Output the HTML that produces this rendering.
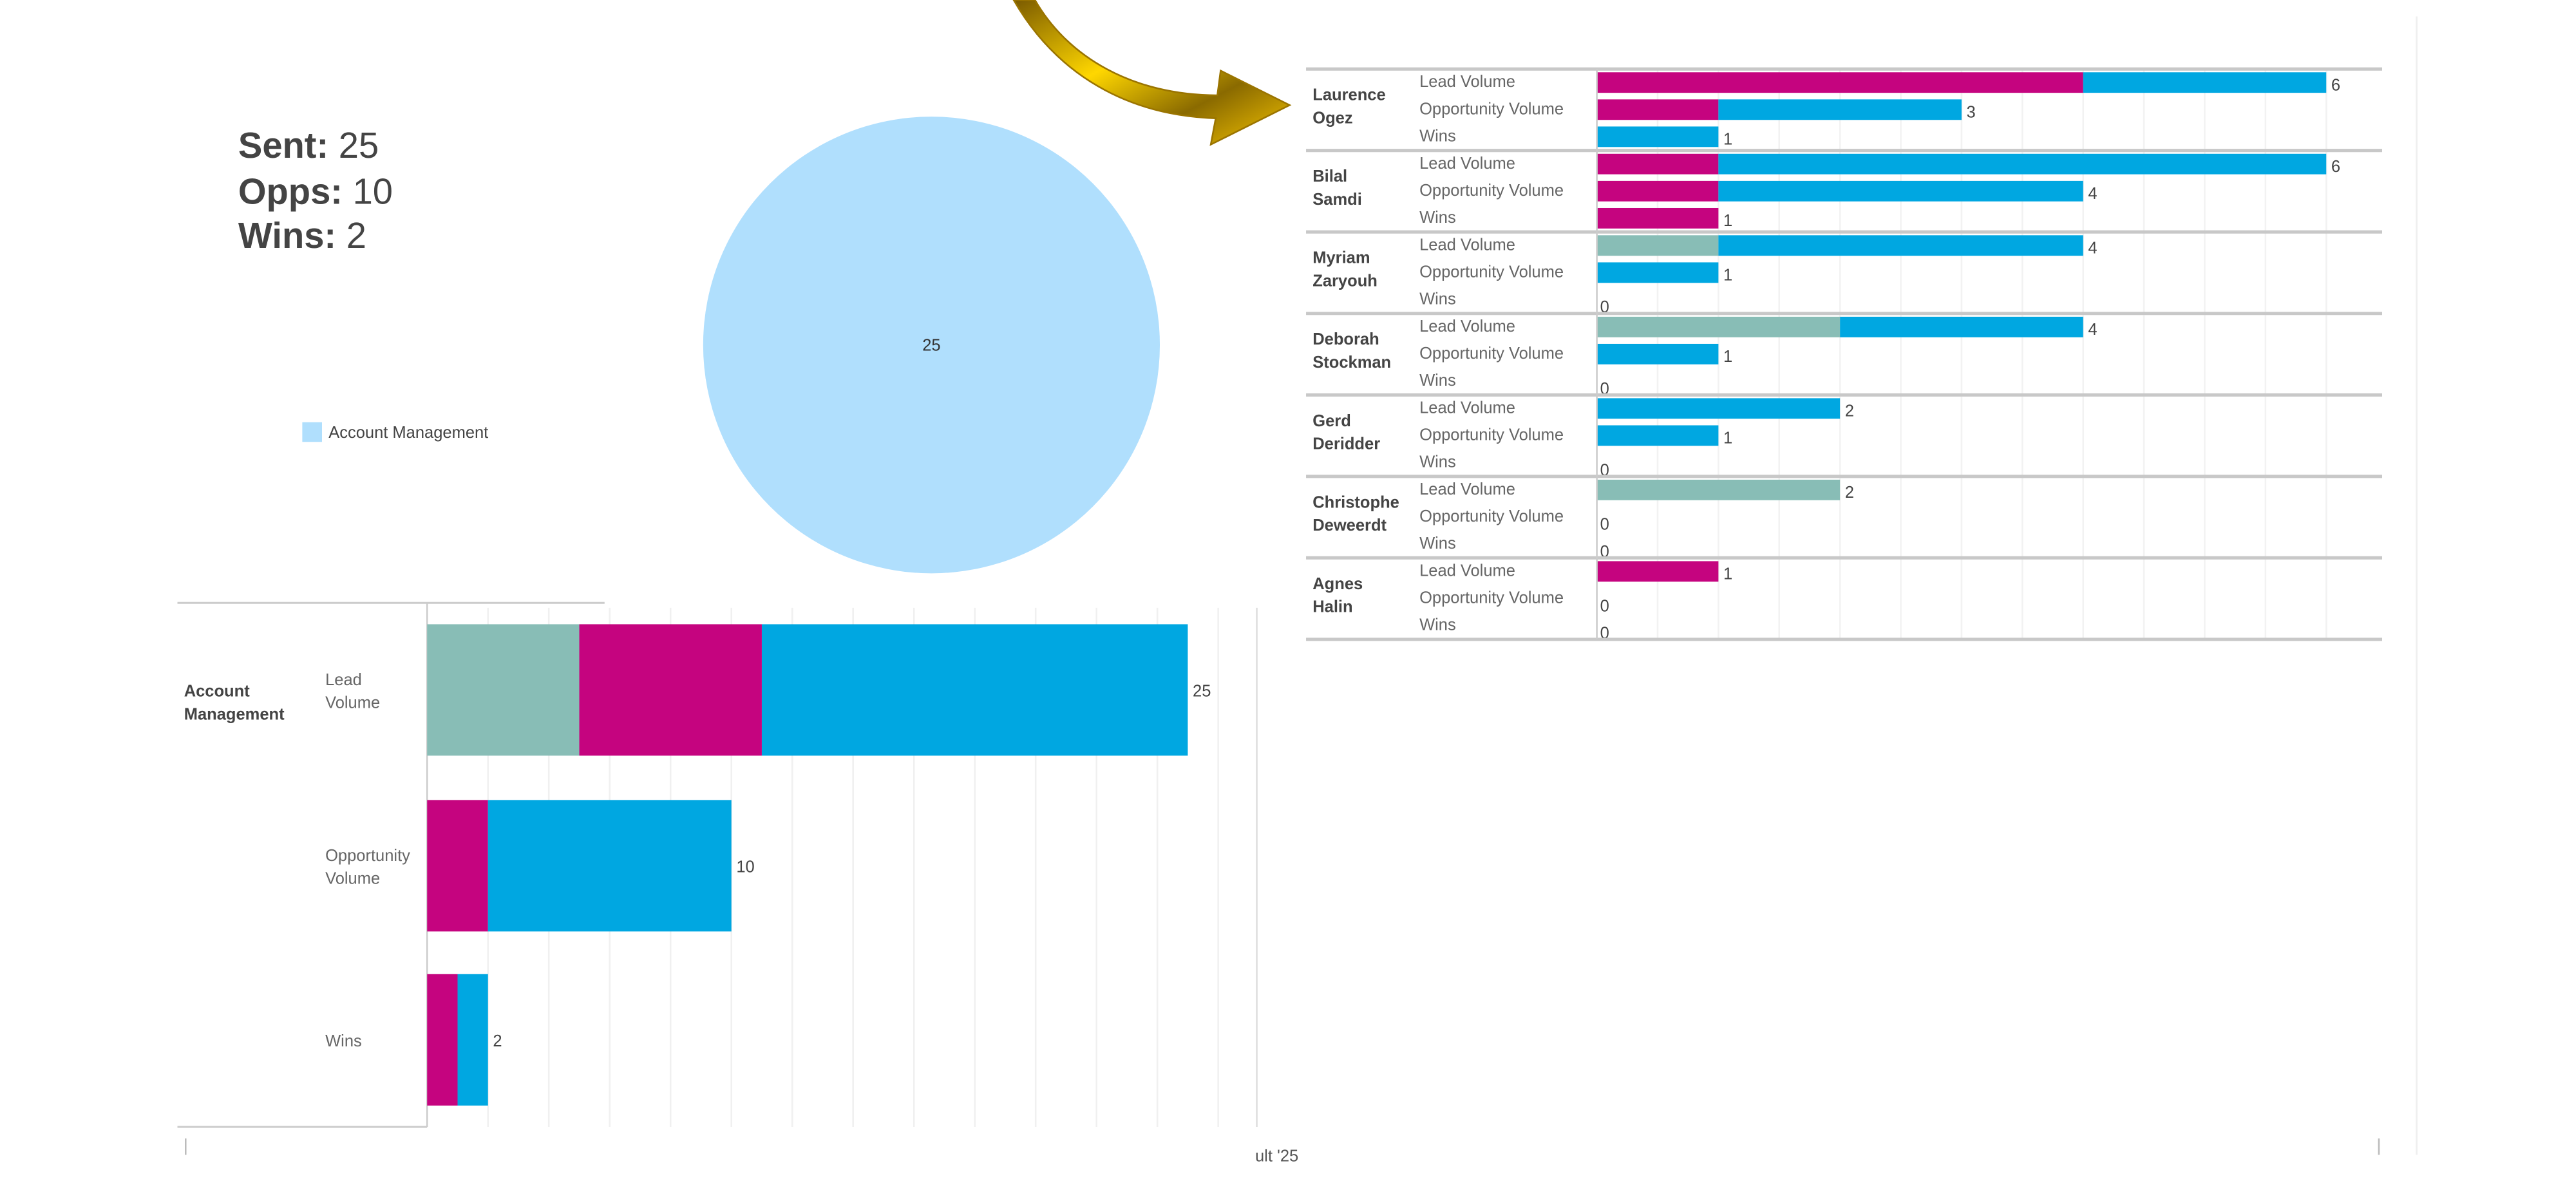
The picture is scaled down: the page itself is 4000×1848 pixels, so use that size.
<!DOCTYPE html>
<html><head><meta charset="utf-8">
<style>
html,body{margin:0;padding:0;background:#fff;}
svg{display:block;}
text{font-family:"Liberation Sans Narrow","Liberation Sans",sans-serif;}
</style></head>
<body>
<svg id="svg" xmlns="http://www.w3.org/2000/svg" width="4000" height="1848" viewBox="0 0 1568 724.4">
<defs>
<linearGradient id="gold" x1="0" y1="0" x2="1" y2="1">
<stop offset="0" stop-color="#7a5a00"/><stop offset="0.4" stop-color="#ffd700"/><stop offset="0.7" stop-color="#8a6a00"/><stop offset="1" stop-color="#f5c400"/>
</linearGradient>
</defs>
<rect x="0" y="0" width="1568" height="724.4" fill="#fff"/>
<g font-family="Liberation Sans" fill="#444" font-size="22">
<text x="145" y="96"><tspan font-weight="bold">Sent:</tspan> 25</text>
<text x="145" y="124"><tspan font-weight="bold">Opps:</tspan> 10</text>
<text x="145" y="151"><tspan font-weight="bold">Wins:</tspan> 2</text>
</g>
<g id="pie"></g>
<g>
<rect x="184" y="257" width="12" height="12" fill="#b0dffd"/>
<text x="200" y="266.5" font-size="10" fill="#444">Account Management</text>
</g>
<path d="M617,0 C640,40 680,70 740,72 L737,88 L785,64 L743,43 L741,58 C690,58 650,35 630,0 Z" fill="url(#gold)" stroke="#9a7400" stroke-width="1"/>
<g id="bottom"></g>
<g id="right"></g>
<line x1="113" y1="693" x2="113" y2="703" stroke="#bbb"/>
<text x="764" y="707" font-size="10" fill="#555">ult '25</text>
<line x1="1448" y1="693" x2="1448" y2="703" stroke="#bbb"/>
<line x1="1471" y1="10" x2="1471" y2="703" stroke="#eee"/>
</svg>
<script>
// Pie data
const pieCategories = ["Account Management"];
const pieValues = [25];
// Account chart data
const acctMeasures = ["Lead Volume", "Opportunity Volume", "Wins"];
const acctTeal = [5, 0, 0];
const acctMagenta = [6, 2, 1];
const acctBlue = [14, 8, 1];
// Rep chart data
const reps = ["Laurence|Ogez", "Bilal|Samdi", "Myriam|Zaryouh", "Deborah|Stockman", "Gerd|Deridder", "Christophe|Deweerdt", "Agnes|Halin"];
const repMeasures = ["Lead Volume", "Opportunity Volume", "Wins"];
const repTeal = [[0,0,0],[0,0,0],[1,0,0],[2,0,0],[0,0,0],[2,0,0],[0,0,0]];
const repMagenta = [[4,1,0],[1,1,1],[0,0,0],[0,0,0],[0,0,0],[0,0,0],[1,0,0]];
const repBlue = [[2,2,1],[5,3,0],[3,1,0],[2,1,0],[2,1,0],[0,0,0],[0,0,0]];

const NS = "http://www.w3.org/2000/svg";
const COLORS = ["#88bdb6", "#c5047f", "#00a7e1"];
function mk(parent, tag, attrs) {
  const e = document.createElementNS(NS, tag);
  for (const k in attrs) e.setAttribute(k, attrs[k]);
  parent.appendChild(e);
  return e;
}
// Pie
(function(){
  const g = document.getElementById('pie');
  const cx = 567, cy = 210, r = 139;
  const total = pieValues.reduce((a,b)=>a+b,0);
  let a0 = -Math.PI/2;
  pieValues.forEach((v,i)=>{
    const frac = v/total;
    let el;
    if (frac >= 0.9999) {
      el = mk(g,'circle',{cx:cx,cy:cy,r:r,fill:'#b0dffd'});
    } else {
      const a1 = a0 + frac*2*Math.PI;
      const d = `M${cx},${cy} L${cx+r*Math.cos(a0)},${cy+r*Math.sin(a0)} A${r},${r} 0 ${frac>0.5?1:0} 1 ${cx+r*Math.cos(a1)},${cy+r*Math.sin(a1)} Z`;
      el = mk(g,'path',{d:d,fill:'#b0dffd'});
      a0 = a1;
    }
    
    
    const t = mk(g,'text',{x:cx,y:cy+3.5,'font-size':10,fill:'#333','text-anchor':'middle'});
    t.textContent = v;
    
    
  });
})();
// Account chart
(function(){
  const g = document.getElementById('bottom');
  const x0 = 260, unit = 18.52;
  const xs = v => x0 + v*unit;
  for (let k=2;k<=26;k+=2){
    const l = mk(g,'line',{x1:xs(k),y1:370,x2:xs(k),y2:686,stroke:'#f0f0f0','stroke-width':1});
    
    
  }
  let e;
  e = mk(g,'line',{x1:108,y1:367,x2:368,y2:367,stroke:'#ccc','stroke-width':1.2});
   
  e = mk(g,'line',{x1:260,y1:367,x2:260,y2:686,stroke:'#ccc','stroke-width':1});
   
  e = mk(g,'line',{x1:108,y1:686,x2:260,y2:686,stroke:'#ccc','stroke-width':1.2});
   
  e = mk(g,'line',{x1:765,y1:370,x2:765,y2:686,stroke:'#ddd','stroke-width':1});
   
  const gt = mk(g,'text',{x:112,y:424,'font-size':10,fill:'#444','font-weight':'bold'});
  gt.innerHTML = '<tspan x="112">Account</tspan><tspan x="112" dy="14">Management</tspan>';
  
  
  const tops = [380, 487, 593], h = 80;
  acctMeasures.forEach((m,i)=>{
    const segs = [acctTeal[i], acctMagenta[i], acctBlue[i]];
    let acc = 0;
    segs.forEach((v,j)=>{
      if (v<=0) return;
      const r = mk(g,'rect',{x:xs(acc),y:tops[i],width:v*unit,height:h,fill:COLORS[j]});
      
      
      acc += v;
    });
    const words = m.split(' ');
    const lt = mk(g,'text',{x:198,y:tops[i]+h/2+4-(words.length-1)*7,'font-size':10,fill:'#666'});
    lt.innerHTML = words.map((w,k)=>`<tspan x="198" dy="${k?14:0}">${w}</tspan>`).join('');
    
    
    const vt = mk(g,'text',{x:xs(acc)+3,y:tops[i]+h/2+4,'font-size':10,fill:'#444'});
    vt.textContent = acc;
    
    
  });
})();
// Rep chart
(function(){
  const g = document.getElementById('right');
  const x0 = 972, unit = 74;
  const xs = v => x0 + v*unit;
  for (let k=1;k<=12;k++){
    const l = mk(g,'line',{x1:xs(k*0.5),y1:42,x2:xs(k*0.5),y2:389,stroke:'#f2f2f2','stroke-width':1});
    
    
  }
  const gh = 49.6, top = 42;
  reps.forEach((rep,i)=>{
    const gy = top + i*gh;
    const sep = mk(g,'line',{x1:795,y1:gy,x2:1450,y2:gy,stroke:'#c8c8c8','stroke-width':2});
    
    
    const parts = rep.split('|');
    const nt = mk(g,'text',{x:799,y:gy+19,'font-size':10,fill:'#444','font-weight':'bold'});
    nt.innerHTML = `<tspan x="799">${parts[0]}</tspan><tspan x="799" dy="14">${parts[1]}</tspan>`;
    
    
    repMeasures.forEach((m,j)=>{
      const cy = gy + 8 + j*16.5;
      const mt = mk(g,'text',{x:864,y:cy+3,'font-size':10,fill:'#666'});
      mt.textContent = m;
      
      
      const segs = [repTeal[i][j], repMagenta[i][j], repBlue[i][j]];
      let acc = 0;
      segs.forEach((v,k)=>{
        if (v<=0) return;
        const r = mk(g,'rect',{x:xs(acc),y:cy-6,width:v*unit,height:12.5,fill:COLORS[k]});
        
        
        acc += v;
      });
      const vt = mk(g,'text',{x:xs(acc)+(acc?3:2),y:cy+(acc?5:8),'font-size':10,fill:'#444'});
      vt.textContent = acc;
      
      
    });
  });
  let e = mk(g,'line',{x1:795,y1:top+reps.length*gh,x2:1450,y2:top+reps.length*gh,stroke:'#c8c8c8','stroke-width':2});
   
  e = mk(g,'line',{x1:972,y1:42,x2:972,y2:389,stroke:'#ccc','stroke-width':1});
   
})();
</script>
</body></html>
